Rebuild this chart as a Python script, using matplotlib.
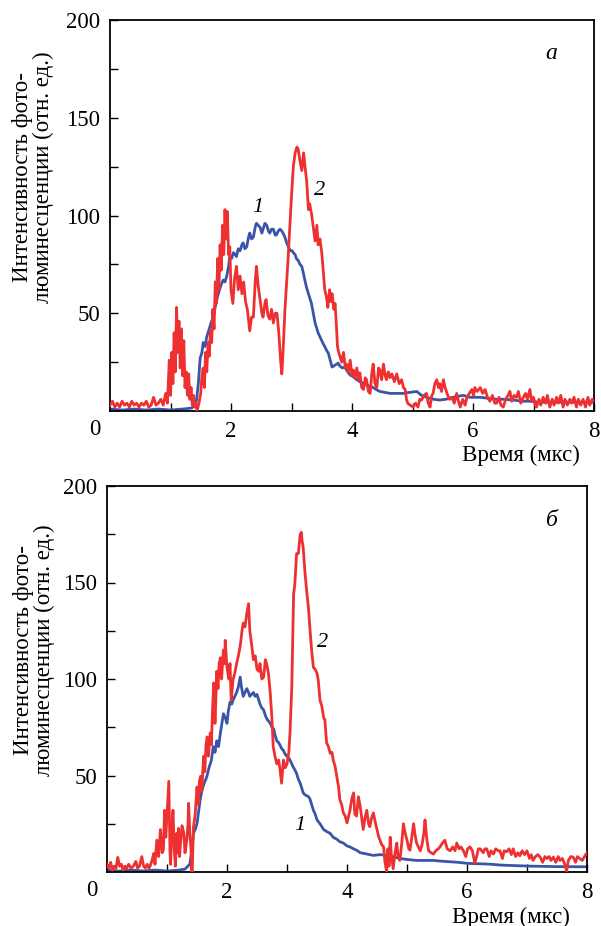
import matplotlib
matplotlib.use("Agg")
import matplotlib.pyplot as plt

plt.rcParams['font.family'] = ['Liberation Serif', 'DejaVu Serif']

RED = '#ee3030'
BLUE = '#3a55a8'

# ---------------- Panel a ----------------
a_red_t = [0.00, 0.04, 0.08, 0.12, 0.16, 0.20, 0.24, 0.28, 0.32, 0.36, 0.40, 0.44, 0.48, 0.52, 0.56, 0.60,
           0.64, 0.68, 0.72, 0.76, 0.80, 0.84, 0.88, 0.92, 0.95, 0.98, 1.00, 1.02, 1.04, 1.06, 1.08, 1.10,
           1.12, 1.14, 1.16, 1.18, 1.20, 1.22, 1.24, 1.26, 1.28, 1.30, 1.32, 1.34, 1.36, 1.38, 1.40, 1.42,
           1.44, 1.47, 1.50, 1.52, 1.54, 1.56, 1.58, 1.60, 1.62, 1.64, 1.66, 1.68, 1.70, 1.72, 1.74, 1.76,
           1.78, 1.80, 1.82, 1.84, 1.86, 1.88, 1.90, 1.92, 1.94, 1.96, 1.98, 2.00, 2.03, 2.06, 2.09, 2.12,
           2.15, 2.18, 2.21, 2.24, 2.27, 2.31, 2.34, 2.37, 2.40, 2.42, 2.45, 2.48, 2.51, 2.53, 2.56, 2.58,
           2.61, 2.64, 2.67, 2.70, 2.73, 2.76, 2.79, 2.82, 2.84, 2.86, 2.89, 2.94, 3.00, 3.03, 3.06, 3.09,
           3.11, 3.14, 3.17, 3.20, 3.22, 3.25, 3.28, 3.30, 3.33, 3.36, 3.39, 3.42, 3.44, 3.47, 3.50, 3.53,
           3.55, 3.58, 3.60, 3.63, 3.65, 3.67, 3.70, 3.72, 3.74, 3.76, 3.78, 3.80, 3.83, 3.86, 3.89, 3.91,
           3.94, 3.97, 4.00, 4.02, 4.05, 4.08, 4.11, 4.13, 4.16, 4.19, 4.22, 4.24, 4.27, 4.30, 4.33, 4.35,
           4.38, 4.41, 4.44, 4.46, 4.49, 4.52, 4.55, 4.57, 4.60, 4.63, 4.66, 4.70, 4.74, 4.78, 4.82, 4.85,
           4.88, 4.90, 4.92, 4.96, 5.01, 5.05, 5.09, 5.12, 5.15, 5.19, 5.23, 5.26, 5.29, 5.32, 5.34, 5.37,
           5.40, 5.43, 5.45, 5.48, 5.51, 5.54, 5.57, 5.61, 5.65, 5.69, 5.73, 5.76, 5.79, 5.83, 5.87, 5.90,
           5.94, 5.98, 6.01, 6.03, 6.07, 6.12, 6.16, 6.20, 6.24, 6.28, 6.32, 6.36, 6.39, 6.43, 6.46, 6.50,
           6.54, 6.58, 6.61, 6.64, 6.68, 6.72, 6.75, 6.79, 6.83, 6.87, 6.90, 6.94, 6.97, 7.00, 7.03, 7.05,
           7.09, 7.12, 7.16, 7.20, 7.23, 7.27, 7.31, 7.34, 7.38, 7.41, 7.45, 7.49, 7.52, 7.56, 7.60, 7.63,
           7.67, 7.71, 7.74, 7.78, 7.82, 7.86, 7.90, 7.93, 7.97, 8.00]
a_red_y = [3, 5, 2, 4, 2, 5, 3, 4, 2, 5, 3, 4, 2, 4, 3, 5,
           2, 3, 7, 3, 4, 6, 3, 9, 4, 26, 8, 30, 14, 40, 20, 53,
           30, 46, 22, 42, 18, 36, 12, 20, 8, 19, 6, 12, 3, 8, 2, 4,
           0, 4, 9, 18, 22, 12, 30, 20, 35, 28, 41, 35, 52, 42, 66, 55,
           78, 62, 85, 72, 95, 80, 103, 88, 102, 80, 84, 62, 55, 68, 74, 62,
           69, 60, 66, 56, 52, 41, 48, 48, 66, 74, 64, 57, 50, 48, 55, 57,
           49, 47, 52, 45, 50, 50, 40, 26, 19, 30, 51, 76, 110, 125, 132, 135,
           134, 128, 123, 132, 126, 118, 103, 106, 101, 94, 87, 95, 85, 88, 81, 70,
           62, 58, 53, 62, 56, 60, 52, 55, 45, 33, 30, 28, 25, 30, 22, 24,
           20, 26, 18, 21, 17, 22, 16, 19.5, 12, 11, 17, 16, 10, 9, 20, 24,
           14, 12, 22, 21, 16, 24, 18, 16, 20, 17, 19, 15, 19, 14, 16, 12,
           11, 6, 4, 3, 2, 4, 2, 6, 5.6, 8, 9, 4, 2, 8, 9, 14,
           16, 12, 14, 10, 16, 12, 9, 6, 7, 4, 9, 5, 2, 6, 3, 7,
           9, 11, 8, 12, 10, 12, 9, 11, 7, 5, 8, 4, 4, 7, 3, 2,
           6, 8, 10, 5, 8, 7, 10, 4, 7, 9, 6, 11, 5, 7, 3, 2,
           6, 3, 7, 4, 8, 2, 6, 3, 7, 4, 8, 2, 6, 3, 6, 4,
           7, 2, 6, 3, 6, 2, 7, 3, 6, 5]

a_blue_t = [0.0, 0.2, 0.4, 0.6, 0.8, 1.0, 1.2, 1.35, 1.40, 1.43, 1.46, 1.49, 1.52, 1.54, 1.57, 1.60,
            1.64, 1.68, 1.71, 1.75, 1.79, 1.83, 1.87, 1.90, 1.93, 1.96, 1.98, 2.01, 2.04, 2.07, 2.09, 2.12,
            2.15, 2.18, 2.20, 2.23, 2.26, 2.29, 2.31, 2.34, 2.37, 2.40, 2.42, 2.45, 2.48, 2.51, 2.53, 2.56,
            2.59, 2.62, 2.64, 2.67, 2.70, 2.73, 2.75, 2.78, 2.81, 2.84, 2.86, 2.89, 2.92, 2.95, 2.98, 3.01,
            3.03, 3.06, 3.08, 3.11, 3.14, 3.17, 3.20, 3.22, 3.25, 3.28, 3.31, 3.33, 3.36, 3.39, 3.42, 3.44,
            3.47, 3.50, 3.53, 3.55, 3.58, 3.61, 3.64, 3.67, 3.70, 3.72, 3.75, 3.77, 3.80, 3.84, 3.88, 3.93,
            3.97, 4.02, 4.08, 4.13, 4.19, 4.27, 4.35, 4.40, 4.46, 4.55, 4.63, 4.75, 4.85, 4.95, 5.07, 5.15,
            5.23, 5.35, 5.45, 5.55, 5.67, 5.75, 5.84, 5.95, 6.12, 6.25, 6.39, 6.50, 6.67, 6.80, 6.94, 7.10,
            7.30, 7.50, 7.70, 8.00]
a_blue_y = [1, 0.5, 1, 0.5, 1, 0.5, 1, 1.5, 3, 5.5, 14, 27, 30, 35, 33, 38,
            42, 46, 48, 55, 60, 64, 67, 66, 69, 74, 79, 78, 81, 80, 79, 83,
            82, 85, 86, 83, 84, 89, 91, 88, 89, 94, 96, 95, 94, 91, 93, 96,
            95, 92, 91, 93, 93, 90, 90, 92, 93, 92, 91, 89, 86, 84, 82, 82,
            81, 80, 78, 77, 75, 74, 70, 67, 63, 60, 57, 55, 50, 45, 42, 40,
            38, 36, 34, 33, 31, 29.5, 26, 22.5, 23, 23.5, 24, 24.5, 23, 22, 22.5, 20,
            18.4, 17.5, 16, 15, 14, 13, 12, 11, 10, 9.5, 9, 9, 9, 9.5, 10, 8,
            7, 6, 5.6, 6, 7, 7.5, 8, 7, 7, 6.5, 6, 6, 5.6, 5, 5, 4.5,
            4.5, 4.5, 4.5, 4.5]

# ---------------- Panel b ----------------
b_red_t = [0.00, 0.03, 0.06, 0.09, 0.12, 0.15, 0.18, 0.21, 0.24, 0.27, 0.30, 0.33, 0.36, 0.40, 0.44, 0.48,
           0.51, 0.54, 0.58, 0.61, 0.64, 0.67, 0.70, 0.72, 0.75, 0.78, 0.80, 0.83, 0.86, 0.89, 0.92, 0.94,
           0.96, 0.98, 1.00, 1.03, 1.05, 1.06, 1.08, 1.10, 1.12, 1.14, 1.16, 1.18, 1.19, 1.21, 1.22, 1.25,
           1.28, 1.30, 1.33, 1.35, 1.36, 1.38, 1.40, 1.41, 1.42, 1.44, 1.47, 1.50, 1.52, 1.54, 1.56, 1.58,
           1.61, 1.63, 1.65, 1.67, 1.69, 1.72, 1.74, 1.76, 1.78, 1.80, 1.83, 1.85, 1.87, 1.89, 1.91, 1.94,
           1.96, 1.97, 2.00, 2.03, 2.05, 2.07, 2.10, 2.13, 2.16, 2.19, 2.22, 2.25, 2.27, 2.30, 2.33, 2.36,
           2.38, 2.41, 2.44, 2.47, 2.50, 2.53, 2.55, 2.58, 2.61, 2.64, 2.66, 2.69, 2.72, 2.75, 2.77, 2.80,
           2.83, 2.86, 2.88, 2.91, 2.94, 2.97, 3.00, 3.03, 3.05, 3.08, 3.11, 3.13, 3.16, 3.19, 3.22, 3.24,
           3.25, 3.27, 3.30, 3.33, 3.36, 3.38, 3.41, 3.44, 3.47, 3.50, 3.52, 3.55, 3.58, 3.61, 3.63, 3.66,
           3.69, 3.72, 3.75, 3.77, 3.80, 3.83, 3.86, 3.88, 3.91, 3.94, 3.97, 4.00, 4.02, 4.05, 4.08, 4.11,
           4.13, 4.16, 4.19, 4.22, 4.25, 4.27, 4.30, 4.33, 4.36, 4.38, 4.41, 4.44, 4.47, 4.50, 4.53, 4.55,
           4.58, 4.61, 4.63, 4.66, 4.68, 4.70, 4.72, 4.74, 4.77, 4.80, 4.83, 4.85, 4.88, 4.91, 4.94, 4.97,
           5.00, 5.03, 5.05, 5.08, 5.11, 5.13, 5.16, 5.19, 5.22, 5.25, 5.28, 5.30, 5.33, 5.36, 5.40, 5.44,
           5.48, 5.52, 5.55, 5.59, 5.63, 5.67, 5.72, 5.76, 5.80, 5.83, 5.87, 5.90, 5.94, 5.98, 6.01, 6.05,
           6.09, 6.13, 6.16, 6.19, 6.22, 6.27, 6.30, 6.33, 6.37, 6.40, 6.44, 6.48, 6.52, 6.55, 6.59, 6.62,
           6.66, 6.70, 6.74, 6.77, 6.81, 6.85, 6.88, 6.92, 6.96, 7.00, 7.04, 7.07, 7.10, 7.14, 7.18, 7.22,
           7.26, 7.30, 7.33, 7.37, 7.40, 7.44, 7.48, 7.52, 7.55, 7.59, 7.63, 7.66, 7.69, 7.73, 7.77, 7.81,
           7.84, 7.88, 7.92, 7.96, 8.00]
b_red_y = [4, 2, 5, 1, 3, 2, 7.6, 3, 4, 1, 3, 2, 4, 2, 3, 5.5,
           2, 3, 8, 3, 2, 4, 2, 3.2, 6, 9.6, 4, 16.5, 8, 22, 10, 11.6,
           32, 18, 30, 47, 10, 4, 22, 32, 12, 3, 20, 10, 22.6, 8, 13, 24,
           20, 10, 16.5, 25, 35.6, 20, 12, 1, 0, 23, 30, 44, 35, 47, 49.6, 42,
           60, 52, 66, 70, 60, 72, 66, 85, 98, 77, 104, 95, 108, 111, 100, 115,
           108, 120, 106, 100, 108, 89, 99.6, 103, 108, 112, 117, 125, 129, 127, 134, 139,
           125, 118, 110, 112, 105, 104, 108, 100, 101, 110, 108, 103, 93, 79, 65, 60,
           56, 58, 54, 46, 58, 54, 56, 62, 72, 96, 144, 149, 165, 165, 175, 176,
           172, 168, 155, 145, 136, 127, 115, 106, 105, 103, 99.6, 89, 86, 80, 79, 67,
           65, 61.5, 62, 58, 55, 49.5, 44, 37.5, 35, 30.6, 29, 25.5, 28, 32, 38, 41,
           30, 29, 39, 34, 27, 22, 28, 32, 25, 23.5, 28, 30.6, 26, 22, 18, 16.5,
           14, 13, 6, 0, 12, 3, 18, 8, 1.7, 10, 15, 8, 6, 14, 25, 20,
           16.5, 12, 11.3, 18, 25, 20, 15, 13, 11, 14, 20, 27, 17, 11, 10, 9.3,
           11, 12, 13, 15, 16.5, 12, 11, 13, 11, 15, 12, 13, 11, 8, 12, 13,
           11, 4.7, 8, 12, 12, 10, 12, 12, 8, 11, 9.3, 12, 11, 11, 7, 11,
           10.5, 12, 9, 12, 8, 10, 8.4, 11, 9, 11, 7, 9, 6, 8, 9, 7.7,
           5, 8, 7, 8, 6, 7.7, 5, 8, 6, 7, 4, 0.5, 6, 8, 7.7, 5,
           8, 7, 6, 8, 10]

b_blue_t = [0.0, 0.2, 0.4, 0.6, 0.8, 1.0, 1.2, 1.30, 1.38, 1.42, 1.44, 1.47, 1.50, 1.53, 1.55, 1.58,
            1.62, 1.66, 1.70, 1.74, 1.77, 1.80, 1.83, 1.86, 1.89, 1.92, 1.94, 1.97, 2.00, 2.02, 2.05, 2.08,
            2.10, 2.13, 2.16, 2.19, 2.22, 2.24, 2.27, 2.30, 2.33, 2.36, 2.38, 2.41, 2.44, 2.47, 2.50, 2.52,
            2.55, 2.58, 2.61, 2.64, 2.67, 2.70, 2.72, 2.75, 2.78, 2.80, 2.83, 2.86, 2.88, 2.91, 2.94, 2.97,
            3.00, 3.03, 3.05, 3.08, 3.11, 3.13, 3.16, 3.19, 3.22, 3.25, 3.27, 3.30, 3.33, 3.36, 3.38, 3.41,
            3.44, 3.47, 3.50, 3.55, 3.61, 3.66, 3.72, 3.77, 3.83, 3.88, 3.94, 4.00, 4.05, 4.11, 4.16, 4.22,
            4.30, 4.44, 4.55, 4.66, 4.75, 4.88, 5.00, 5.16, 5.30, 5.44, 5.58, 5.72, 5.86, 6.00, 6.14, 6.27,
            6.41, 6.55, 6.80, 7.10, 7.50, 8.00]
b_blue_y = [1, 0.5, 1, 0.5, 1, 0.5, 1, 1.5, 4, 12, 20, 22, 25, 32, 37, 42,
            46, 49, 54, 58, 65, 62, 68, 65, 72, 78, 82, 80, 77, 83, 88, 87,
            89, 91, 93, 96, 101, 96, 91, 93, 95, 93, 91, 92, 93, 91, 92, 90,
            87, 85, 84, 81, 79, 78, 77, 75, 74, 71, 68, 67, 66, 64, 63, 61,
            60, 59, 58, 56, 54, 53, 51, 48, 46, 43, 41, 40, 39.5, 39, 38, 35,
            32, 30, 27, 25, 22, 21, 20, 18, 17, 15.7, 15, 13.5, 13, 12, 11.3, 10,
            9.5, 8.6, 9, 8.6, 8, 7, 6.5, 6, 6, 6, 5.6, 5.3, 5, 4.5, 4.3, 4.2,
            4, 3.6, 3.3, 3, 2.8, 2.7]

y_ticks = [25, 50, 75, 100, 125, 150, 175, 200]
y_ticklabels = ['', '50', '', '100', '', '150', '', '200']
x_ticks = [1, 2, 3, 4, 5, 6, 7, 8]
x_ticklabels = ['', '2', '', '4', '', '6', '', '8']
xlabel = 'Время (мкс)'
ylabel = 'Интенсивность фото-\nлюминесценции (отн. ед.)'

W, H = 601, 926
fig = plt.figure(figsize=(W / 100, H / 100), dpi=100)

# panel geometry in pixels: left, top, right, bottom
panels = [
    dict(box=(110, 20, 594, 411), red=(a_red_t, a_red_y), blue=(a_blue_t, a_blue_y),
         letter='а', letter_xy=(7.3, 183), l1=(2.45, 104), l2=(3.47, 113),
         ylab_xy=(33, 177), xlab=(580, 455), zero=(95, 430)),
    dict(box=(107, 486, 587, 872), red=(b_red_t, b_red_y), blue=(b_blue_t, b_blue_y),
         letter='б', letter_xy=(7.42, 182), l1=(3.22, 24), l2=(3.6, 119),
         ylab_xy=(34, 650), xlab=(570, 917), zero=(92, 890)),
]

for p in panels:
    l, t, r, b = p['box']
    ax = fig.add_axes([l / W, 1 - b / H, (r - l) / W, (b - t) / H])
    ax.plot(p['blue'][0], p['blue'][1], color=BLUE, lw=2.0, zorder=2)
    ax.plot(p['red'][0], p['red'][1], color=RED, lw=2.0, zorder=3)
    ax.set_xlim(0, 8)
    ax.set_ylim(0, 200)
    ax.set_yticks(y_ticks)
    ax.set_yticklabels(y_ticklabels)
    ax.set_xticks(x_ticks)
    ax.set_xticklabels(x_ticklabels)
    ax.tick_params(direction='in', length=6, width=1.0, labelsize=16.5, pad=7)
    for s in ax.spines.values():
        s.set_linewidth(1.3)
    ax.text(*p['letter_xy'], p['letter'], style='italic', fontsize=17, ha='center', va='center')
    ax.text(*p['l1'], '1', style='italic', fontsize=16, ha='center', va='center')
    ax.text(*p['l2'], '2', style='italic', fontsize=16, ha='center', va='center')
    fig.text(p['ylab_xy'][0] / W, 1 - p['ylab_xy'][1] / H, ylabel, rotation=90,
             ha='center', va='center', multialignment='center', fontsize=16.5, linespacing=1.05)
    fig.text(p['xlab'][0] / W, 1 - p['xlab'][1] / H, xlabel, ha='right', va='center', fontsize=16.5)
    fig.text(p['zero'][0] / W, 1 - p['zero'][1] / H, '0', ha='center', va='center', fontsize=16.5)

fig.savefig('out.png', dpi=100)
